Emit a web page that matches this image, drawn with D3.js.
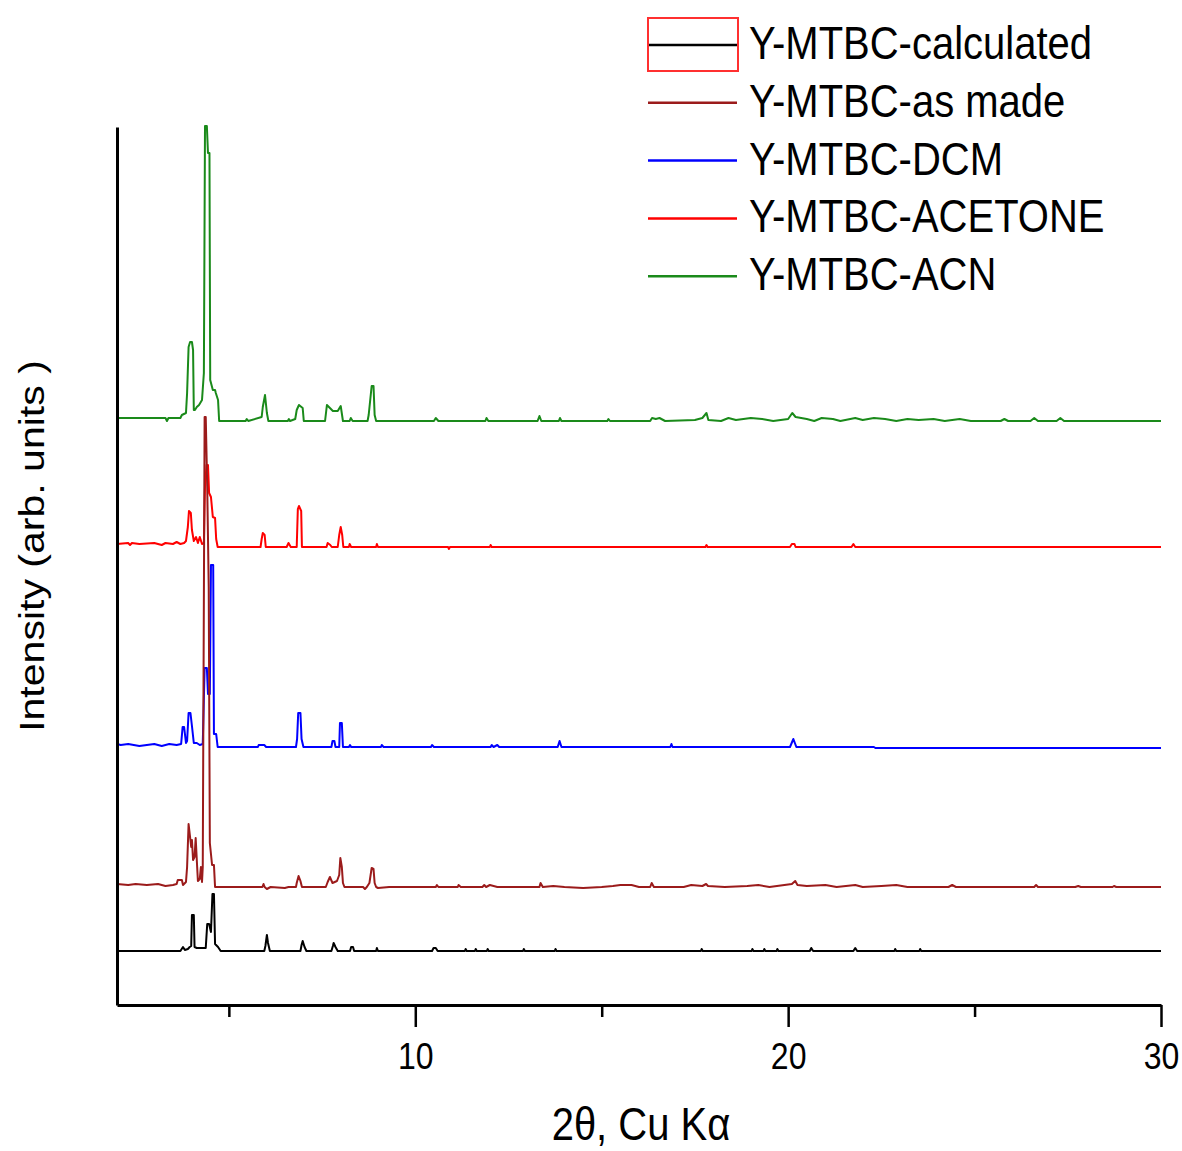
<!DOCTYPE html>
<html>
<head>
<meta charset="utf-8">
<script src="https://cdn.jsdelivr.net/npm/d3@7"></script>
<style>
  body { margin: 0; background: #fff; }
  text { font-family: "Liberation Sans", Arial, sans-serif; fill: #000; }
</style>
</head>
<body>
<div id="chart"></div>
<script>
// series names, legend order
const seriesNames = ["Y-MTBC-calculated", "Y-MTBC-as made", "Y-MTBC-DCM", "Y-MTBC-ACETONE", "Y-MTBC-ACN"];
const seriesColors = ["#000000", "#9b1b1b", "#0000ff", "#ff0000", "#1a8a1a"];
// vertical offsets of each pattern (arb. units)
const offsets = [54, 118, 258, 458, 584];

const xMajorTicks = [10, 20, 30];
const xMinorTicks = [5, 15, 25];

// [2theta, intensity above own baseline]
const calculated = [[2.0,0],[3.70,0],[3.77,4],[3.82,1],[3.90,2],[3.95,4],[3.99,5],[4.01,36],[4.06,36],[4.08,4],[4.14,3],[4.38,3],[4.42,27],[4.47,27],[4.52,19],[4.56,57],[4.60,57],[4.63,7],[4.71,4],[4.78,0],
  [5.95,0],[5.98,5],[6.02,16],[6.05,8],[6.10,0],[6.92,0],[6.95,6],[6.98,10],[7.03,4],[7.08,0],[7.75,0],[7.79,5],[7.81,8],[7.86,4],[7.92,0],[8.25,0],[8.28,4],[8.33,4],[8.36,0],[8.95,0],[8.97,3],[9.0,0],
  [10.45,0],[10.49,3],[10.55,3],[10.6,0],[11.33,0],[11.35,2],[11.38,0],[11.6,0],[11.62,2],[11.65,0],[11.92,0],[11.94,2],[11.97,0],[12.89,0],[12.91,2],[12.94,0],[13.74,0],[13.76,2],[13.79,0],
  [17.66,0],[17.68,2],[17.71,0],[19.02,0],[19.04,2],[19.07,0],[19.34,0],[19.36,2],[19.39,0],[19.69,0],[19.71,2],[19.74,0],[20.58,0],[20.62,3],[20.67,0],[21.75,0],[21.8,3],[21.85,0],
  [22.85,0],[22.87,2],[22.9,0],[23.52,0],[23.54,2],[23.57,0],[30,0]];

const asMade = [[2.0,3],[2.3,2],[2.5,3],[2.8,2],[3.1,3],[3.3,1],[3.5,2],[3.6,3],[3.63,7],[3.74,7],[3.77,2],[3.85,5],[3.88,20],[3.92,63],[3.96,50],[3.99,40],[4.01,47],[4.04,27],[4.08,30],[4.11,49],[4.15,20],[4.17,6],[4.22,8],[4.25,20],[4.28,5],[4.30,20],
  [4.35,470],[4.38,470],[4.42,400],[4.46,300],[4.49,44],[4.55,22],[4.60,22],[4.63,0],
  [5.90,0],[5.93,3],[5.96,0],[6.02,-2],[6.12,0],[6.5,-1],[6.6,0],[6.8,0],[6.82,4],[6.87,11],[6.92,6],[6.96,0],[7.6,0],[7.65,5],[7.71,10],[7.78,4],[7.90,6],[7.96,12],[7.99,29],[8.03,20],[8.06,4],[8.1,0],
  [8.6,0],[8.65,-2],[8.70,0],[8.77,4],[8.83,19],[8.88,18],[8.91,4],[8.95,0],[9.0,-1],[9.3,0],[10.55,0],[10.58,2],[10.62,0],[11.14,0],[11.16,2],[11.22,0],[11.8,0],[11.85,2],[11.9,0],[12.0,2],[12.2,0],
  [13.33,0],[13.36,4],[13.42,0],[13.7,1],[14.0,0],[14.5,-1],[15.0,0],[15.3,1],[15.5,2],[15.8,2],[16.0,0],[16.3,0],[16.34,4],[16.4,0],[17.2,0],[17.4,2],[17.7,1],[17.8,3],[17.85,1],[18.3,0],
  [18.9,1],[19.2,2],[19.5,0],[20.1,3],[20.19,6],[20.25,2],[20.5,1],[21.0,2],[21.3,0],[21.8,2],[22.0,0],[22.5,1],[22.9,2],[23.2,0],[24.3,0],[24.4,2],[24.5,0],[26.6,0],[26.65,2],[26.7,0],
  [27.7,0],[27.78,1],[27.85,0],[28.7,0],[28.74,1],[28.8,0],[30,0]];

const dcm = [[2.0,3],[2.1,2],[2.3,3],[2.6,1],[3.0,3],[3.2,1],[3.4,3],[3.6,2],[3.72,3],[3.76,20],[3.80,20],[3.85,4],[3.88,6],[3.92,34],[3.97,34],[4.01,21],[4.06,4],[4.14,4],[4.22,2],[4.30,3],
  [4.35,79],[4.41,79],[4.44,53],[4.49,53],[4.52,182],[4.58,182],[4.60,13],[4.66,13],[4.70,0],
  [5.78,0],[5.80,2],[5.95,2],[6.0,0],[6.8,0],[6.83,8],[6.86,34],[6.92,34],[6.95,8],[7.0,0],[7.75,0],[7.78,6],[7.83,6],[7.86,0],[7.96,0],[7.98,24],[8.03,24],[8.06,0],[8.22,0],[8.25,2],[8.28,0],
  [9.08,0],[9.1,2],[9.15,0],[10.42,0],[10.45,2],[10.5,0],[12.02,0],[12.05,2],[12.1,0],[12.2,2],[12.25,0],[13.82,0],[13.87,6],[13.92,0],[16.84,0],[16.87,3],[16.9,0],
  [20.05,0],[20.14,8],[20.22,0],[22.3,0],[22.34,-1],[30,-1]];

const acetone = [[2.0,3],[2.3,4],[2.35,2],[2.4,4],[2.6,3],[3.0,4],[3.2,2],[3.3,4],[3.5,3],[3.6,5],[3.7,3],[3.8,4],[3.85,6],[3.90,20],[3.93,36],[3.98,34],[4.01,17],[4.06,6],[4.12,10],[4.17,4],[4.22,10],[4.28,3],[4.33,4],
  [4.36,60],[4.40,82],[4.44,82],[4.47,54],[4.52,50],[4.57,30],[4.63,29],[4.66,8],[4.70,0],
  [5.85,0],[5.88,8],[5.91,14],[5.96,12],[5.99,0],[6.55,0],[6.6,4],[6.66,0],[6.82,0],[6.85,38],[6.88,41],[6.94,36],[6.96,0],[7.62,0],[7.65,4],[7.72,2],[7.76,0],[7.92,0],[7.96,12],[8.00,20],[8.04,12],[8.07,0],
  [8.22,0],[8.24,3],[8.28,0],[8.95,0],[8.97,3],[9.0,0],[10.88,0],[10.90,-2],[10.93,0],[12.0,0],[12.02,2],[12.05,0],[17.78,0],[17.81,2],[17.84,0],[20.05,0],[20.1,3],[20.17,3],[20.2,0],[21.7,0],[21.75,3],[21.8,0],[30,0]];

const acn = [[2.0,3],[3.30,3],[3.34,0],[3.38,3],[3.70,3],[3.74,6],[3.85,8],[3.88,28],[3.92,74],[3.96,79],[4.01,79],[4.04,71],[4.06,11],[4.09,11],[4.14,14],[4.20,16],[4.28,21],[4.33,48],
  [4.36,295],[4.41,295],[4.44,268],[4.48,268],[4.50,41],[4.57,31],[4.63,31],[4.65,28],[4.71,21],[4.74,0],
  [5.45,0],[5.48,2],[5.52,0],[5.88,4],[5.91,14],[5.97,26],[6.02,8],[6.06,0],[6.58,0],[6.61,2],[6.64,0],[6.78,2],[6.82,11],[6.88,16],[6.98,13],[7.01,0],[7.58,0],[7.63,16],[7.71,13],[7.79,10],[7.92,10],[8.00,15],[8.06,0],
  [8.24,0],[8.27,3],[8.32,0],[8.72,0],[8.75,6],[8.83,35],[8.88,35],[8.91,6],[8.95,0],[10.50,0],[10.55,3],[10.62,0],[11.88,0],[11.91,3],[11.96,0],[13.28,0],[13.33,5],[13.38,0],[13.85,0],[13.88,3],[13.92,0],
  [15.15,0],[15.18,2],[15.22,0],[16.3,0],[16.35,3],[16.45,2],[16.55,3],[16.7,0],[17.5,1],[17.70,3],[17.81,8],[17.86,1],[18.2,0],[18.4,3],[18.6,1],[19.0,3],[19.3,2],[19.6,0],[20.0,2],[20.11,8],[20.2,4],[20.5,2],[20.7,0],
  [20.9,3],[21.2,2],[21.4,0],[21.8,3],[22.0,1],[22.3,3],[22.6,2],[22.9,0],[23.2,2],[23.5,1],[23.9,2],[24.2,0],[24.6,2],[24.9,0],[25.7,0],[25.8,2],[25.9,0],[26.5,0],[26.6,3],[26.7,0],[27.2,0],[27.3,3],[27.4,0],[30,0]];

const seriesData = [calculated, asMade, dcm, acetone, acn];
// drawing order (maroon sits over blue and red peaks)
const drawOrder = [0, 2, 3, 1, 4];

const width = 1182, height = 1151;
const x = d3.scaleLinear().domain([2, 30]).range([117, 1161]);
const y = d3.scaleLinear().domain([0, 878]).range([1005, 127]);

const svg = d3.select("#chart").append("svg")
  .attr("width", width).attr("height", height)
  .attr("viewBox", [0, 0, width, height]);

svg.append("rect").attr("width", width).attr("height", height).attr("fill", "#fff");

const line = d3.line()
  .x(d => x(d[0]))
  .y(d => y(d[1] + d.off));

drawOrder.forEach(i => {
  const pts = seriesData[i].map(p => { const q = [p[0], p[1]]; q.off = offsets[i]; return q; });
  svg.append("path")
    .datum(pts)
    .attr("fill", "none")
    .attr("stroke", seriesColors[i])
    .attr("stroke-width", 2)
    .attr("stroke-linejoin", "round")
    .attr("d", line);
});

// axes
svg.append("g")
  .attr("transform", "translate(0,1005)")
  .call(d3.axisBottom(x).tickValues(xMinorTicks).tickSize(12).tickSizeOuter(0).tickFormat(""))
  .call(g => g.select(".domain").remove())
  .call(g => g.selectAll("line").attr("stroke-width", 2.5));

svg.append("g")
  .attr("transform", "translate(0,1005)")
  .call(d3.axisBottom(x).tickValues(xMajorTicks).tickSize(22).tickSizeOuter(0))
  .call(g => g.select(".domain").attr("stroke-width", 3))
  .call(g => g.selectAll("line").attr("stroke-width", 2.5))
  .call(g => g.selectAll("text")
    .attr("font-size", 32)
    .attr("font-family", "Liberation Sans, Arial, sans-serif")
    .attr("fill", "#000")
    .attr("y", 32)
    .attr("transform", "scale(1,1.17)"));

svg.append("g")
  .attr("transform", "translate(117,0)")
  .call(d3.axisLeft(y).tickValues([]).tickSizeOuter(0))
  .call(g => g.select(".domain").attr("stroke-width", 3));

// axis titles
svg.append("text")
  .attr("transform", "translate(641,1140) scale(1,1.15)")
  .attr("text-anchor", "middle")
  .attr("font-size", 40)
  .text("2θ, Cu Kα");

svg.append("text")
  .attr("transform", "translate(44,546) rotate(-90) scale(1.14,1)")
  .attr("text-anchor", "middle")
  .attr("font-size", 36)
  .text("Intensity (arb. units )");

// legend
const legend = svg.append("g");
seriesNames.forEach((name, i) => {
  const ly = 45 + i * 57.8;
  legend.append("line")
    .attr("x1", 648).attr("x2", 737)
    .attr("y1", ly).attr("y2", ly)
    .attr("stroke", seriesColors[i])
    .attr("stroke-width", 2.5);
  legend.append("text")
    .attr("transform", `translate(749,${ly + 14}) scale(1,1.15)`)
    .attr("font-size", 40)
    .text(name);
});
legend.append("rect")
  .attr("x", 648).attr("y", 18)
  .attr("width", 90).attr("height", 53)
  .attr("fill", "none")
  .attr("stroke", "#ff3030")
  .attr("stroke-width", 2);
</script>
</body>
</html>
